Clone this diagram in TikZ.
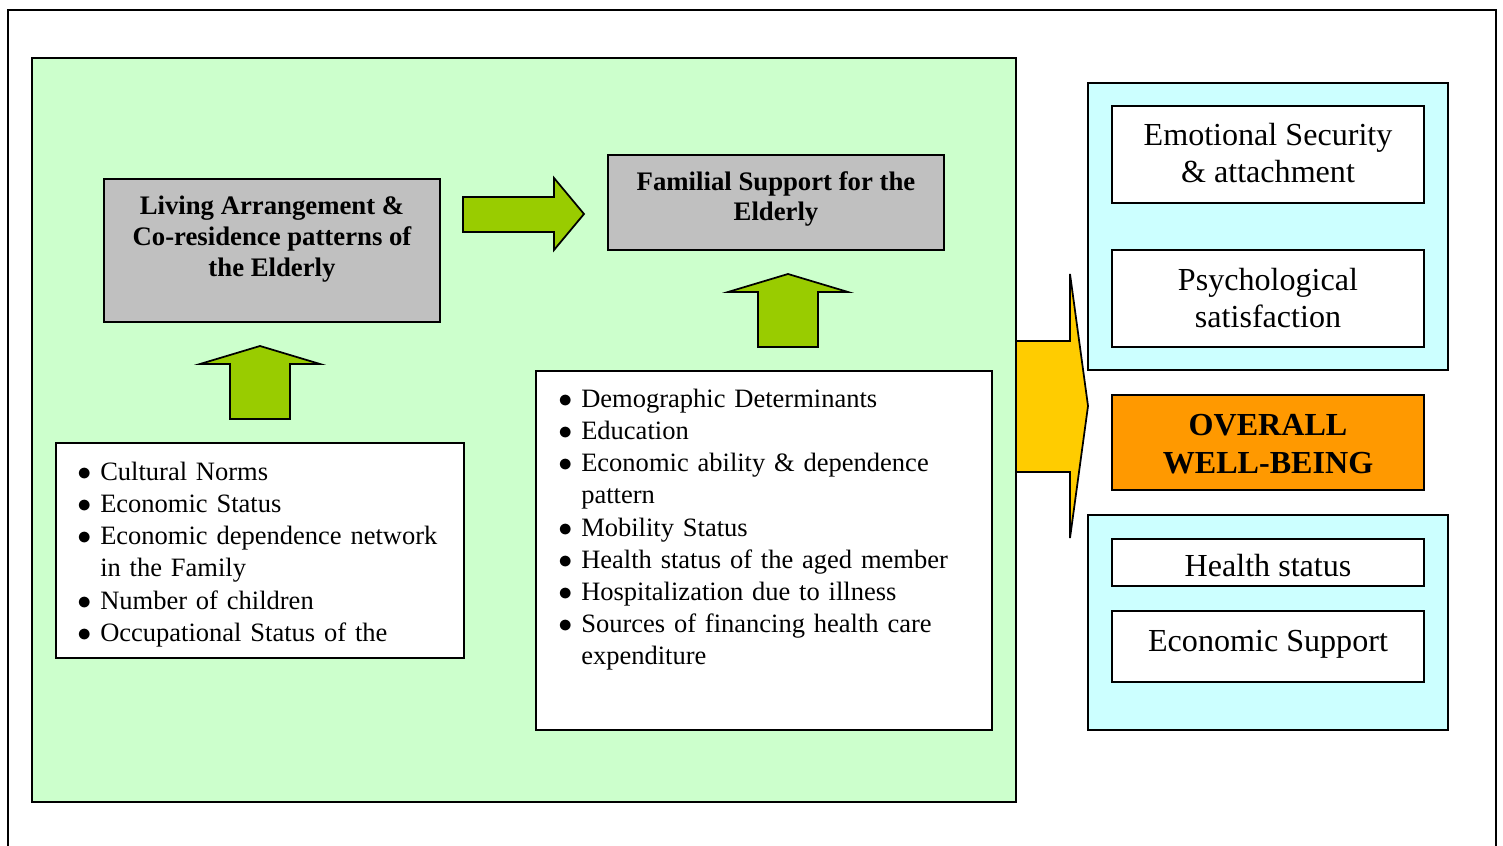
\documentclass[tikz,border=0pt]{standalone}
\usepackage{fontspec}
\setmainfont{Liberation Serif}
\usetikzlibrary{fit}
\definecolor{bggreen}{HTML}{CCFFCC}
\definecolor{boxgrey}{HTML}{C0C0C0}
\definecolor{arrowgreen}{HTML}{99CC00}
\definecolor{arrowyellow}{HTML}{FFCC00}
\definecolor{boxcyan}{HTML}{CCFFFF}
\definecolor{boxorange}{HTML}{FF9900}
\newcommand{\bul}[1]{\par\noindent\hangindent=9.8pt\hangafter=1%
  \makebox[9.8pt][l]{\fontsize{12.5pt}{12.5pt}\selectfont$\bullet$}#1\par}

\begin{document}
\begin{tikzpicture}[x=0.43pt,y=-0.43pt,
  panel/.style={draw,line width=0.85pt,inner sep=0pt},
  blockarrow/.style={draw,line width=0.75pt,line join=miter,fill=arrowgreen},
  headtxt/.style={font=\bfseries\fontsize{11.5pt}{13.3pt}\selectfont,align=center,inner sep=0pt},
  listtxt/.style={font=\fontsize{11.4pt}{13.85pt}\selectfont,align=left,inner sep=0pt,anchor=base west,text width=200pt},
  outtxt/.style={font=\fontsize{13.8pt}{16.3pt}\selectfont,align=center,inner sep=0pt}]
  \useasboundingbox (0,0) rectangle (1503,846);
  \draw[line width=0.9pt] (8,846) -- (8,10) -- (1496,10) -- (1496,846); % 外枠：下辺は引かない
  \node (ctx) [panel,fill=bggreen,fit={(32,58) (1016,802)}] {};
  \node (living) [panel,fill=boxgrey,fit={(104,179) (440,322)}] {};
  \node (livingTxt) [headtxt] at (272,239) {Living Arrangement \&\\Co-residence patterns of\\the Elderly};
  \node (familial) [panel,fill=boxgrey,fit={(608,155) (944,250)}] {};
  \node (familialTxt) [headtxt] at (776,199) {Familial Support for the\\Elderly};
  \draw[blockarrow] (463,197) -- (554,197) -- (554,178) -- (584,214) -- (554,250) -- (554,232) -- (463,232) -- cycle;
  \foreach \cx/\ty in {260/346,788/274}
    \draw[blockarrow] ({\cx-30},{\ty+73}) -- ({\cx-30},{\ty+18}) -- ({\cx-60},{\ty+18}) -- (\cx,\ty)
      -- ({\cx+60},{\ty+18}) -- ({\cx+30},{\ty+18}) -- ({\cx+30},{\ty+73}) -- cycle;
  \node (livingFactors) [panel,fill=white,fit={(56,443) (464,658)}] {};
  \node (livingList) [listtxt] at (77,448) {\raggedright\bul{Cultural Norms}\bul{Economic Status}
    \bul{Economic dependence network\newline in the Family}\bul{Number of children}\bul{Occupational Status of the}};
  \node (supportFactors) [panel,fill=white,fit={(536,371) (992,730)}] {};
  \node (supportList) [listtxt] at (558,375) {\raggedright\bul{Demographic Determinants}\bul{Education}
    \bul{Economic ability \& dependence\newline pattern}\bul{Mobility Status}\bul{Health status of the aged member}
    \bul{Hospitalization due to illness}\bul{Sources of financing health care\newline expenditure}};
  % 右側へ向かう大きな矢印
  \draw[blockarrow,fill=arrowyellow] (1016,341) -- (1070,341) -- (1070,274) -- (1088,406) -- (1070,538) -- (1070,472) -- (1016,472) -- cycle;
  \node (upperOut) [panel,fill=boxcyan,fit={(1088,83) (1448,370)}] {};
  \node (emotional) [panel,fill=white,fit={(1112,106) (1424,203)}] {};
  \node (emotionalTxt) [outtxt] at (1268,153) {Emotional Security\\\& attachment};
  \node (psych) [panel,fill=white,fit={(1112,250) (1424,347)}] {};
  \node (psychTxt) [outtxt] at (1268,298) {Psychological\\satisfaction};
  \node (overall) [panel,fill=boxorange,fit={(1112,395) (1424,490)}] {};
  \node (overallTxt) [outtxt,font=\bfseries\fontsize{13.8pt}{16.3pt}\selectfont] at (1268,444) {OVERALL\\WELL-BEING};
  \node (lowerOut) [panel,fill=boxcyan,fit={(1088,515) (1448,730)}] {};
  \node (health) [panel,fill=white,fit={(1112,539) (1424,586)}] {};
  \node (healthTxt) [outtxt,anchor=base] at (1268,576) {Health status};
  \node (economic) [panel,fill=white,fit={(1112,611) (1424,682)}] {};
  \node (economicTxt) [outtxt,anchor=base] at (1268,651) {Economic Support};
\end{tikzpicture}
\end{document}
